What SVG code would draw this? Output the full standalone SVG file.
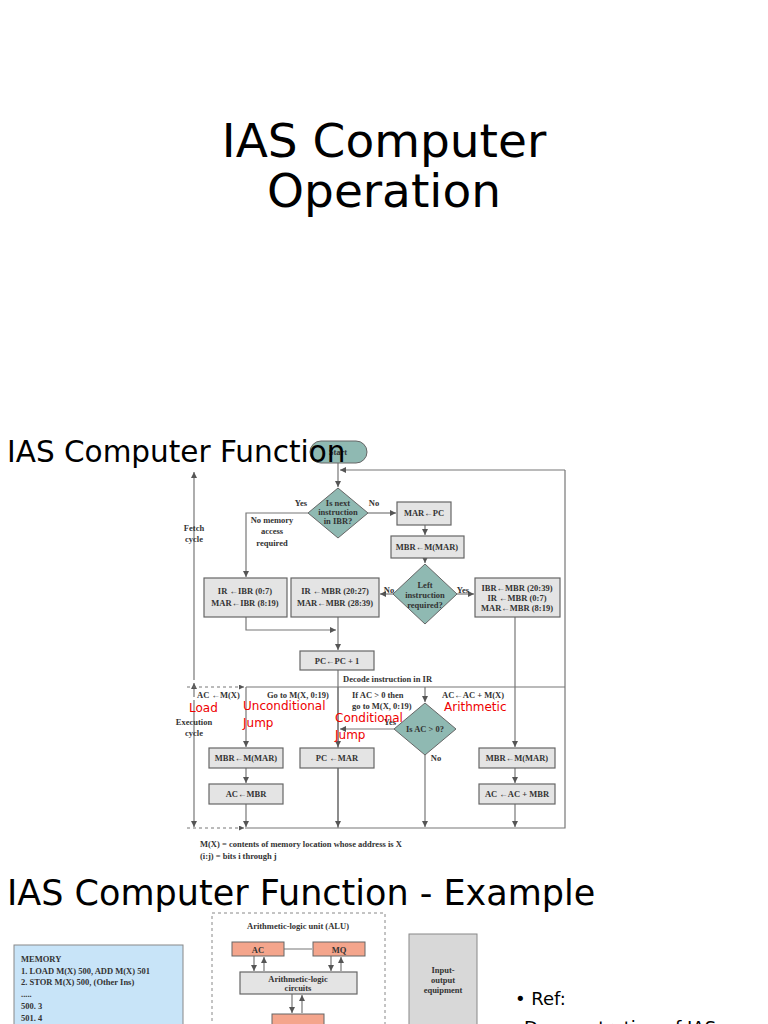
<svg xmlns="http://www.w3.org/2000/svg" width="768" height="1024" viewBox="0 0 768 1024">
<defs>
<marker id="ah" viewBox="0 0 6 6" refX="6" refY="3" markerWidth="5" markerHeight="5" orient="auto"><path d="M0,0L6,3L0,6z" fill="#555"/></marker>
<style>
.t{font-family:"DejaVu Sans",sans-serif;fill:#000}
.s{font-family:"Liberation Serif",serif;font-weight:bold;font-size:8.5px;fill:#333;text-anchor:middle}
.sl{font-family:"Liberation Serif",serif;font-weight:bold;font-size:8.5px;fill:#333}
.r{font-family:"DejaVu Sans",sans-serif;font-size:12px;fill:#e00}
.b{fill:#e4e4e4;stroke:#666;stroke-width:1.2}
.d{fill:#8fb9b2;stroke:#666;stroke-width:1}
.l{fill:none;stroke:#777;stroke-width:1.2}
.la{fill:none;stroke:#777;stroke-width:1.2;marker-end:url(#ah)}
.dash{fill:none;stroke:#777;stroke-width:1;stroke-dasharray:3,3}
.o{fill:#f4a58c;stroke:#666}
</style>
</defs>
<rect width="768" height="1024" fill="#fff"/>
<text class="t" x="384" y="157" font-size="47" text-anchor="middle">IAS Computer</text>
<text class="t" x="384" y="207" font-size="47" text-anchor="middle">Operation</text>

<g id="connectors">
<path class="l" d="M565,470V828H245"/>
<path class="la" d="M565,470H340"/>
<path class="la" d="M338,463V487"/>
<path class="la" d="M308,513H246V577"/>
<path class="la" d="M368,513H396"/>
<path class="la" d="M425,525V535"/>
<path class="la" d="M425,558V563"/>
<path class="la" d="M393,594H380"/>
<path class="la" d="M457,594H474"/>
<path class="la" d="M246,617V630H336"/>
<path class="la" d="M338,617V650"/>
<path class="l" d="M338,670V828"/>
<path class="l" d="M246,687H565"/>
<path class="la" d="M515,617V747"/>
<path class="la" d="M246,687V747"/>
<path class="la" d="M246,768V783"/>
<path class="la" d="M246,804V827"/>
<path class="la" d="M338,687V747"/>
<path class="la" d="M338,768V827"/>
<path class="la" d="M425,687V702"/>
<path class="la" d="M394,729H340"/>
<path class="la" d="M425,755V827"/>
<path class="la" d="M515,768V783"/>
<path class="la" d="M515,804V827"/>
<path class="la" d="M194,680V472"/>
<path class="la" d="M194,697V683"/>
<path class="la" d="M194,700V827"/>
<path class="dash" d="M187,687H244" marker-end="url(#ah)"/>
<path class="dash" d="M187,828H244" marker-end="url(#ah)"/>
<path class="la" d="M312,949H264"/>
<path class="la" d="M254,956V971"/><path class="la" d="M264,971V957"/>
<path class="la" d="M331,956V971"/><path class="la" d="M341,971V957"/>
<path class="la" d="M292,994V1013"/><path class="la" d="M302,1013V995"/>
</g>

<g id="start"><rect x="310" y="441" width="57" height="22" rx="11" class="d"/><text class="s" x="338" y="455">Start</text></g>
<text class="t" x="7" y="462" font-size="29.5">IAS Computer Function</text>
<g id="d1"><path class="d" d="M338,488L368,513L338,538L308,513z"/><text class="s" x="338" y="506">Is next</text><text class="s" x="338" y="515">instruction</text><text class="s" x="338" y="524">in IBR?</text></g>
<text class="s" x="301" y="506">Yes</text><text class="s" x="374" y="506">No</text>
<text class="s" x="272" y="523">No memory</text><text class="s" x="272" y="534">access</text><text class="s" x="272" y="546">required</text>
<text class="s" x="194" y="531">Fetch</text><text class="s" x="194" y="542">cycle</text>
<g id="mar"><rect class="b" x="397" y="502" width="54" height="23"/><text class="s" x="424" y="516">MAR←PC</text></g>
<g id="mbr"><rect class="b" x="391" y="536" width="73" height="22"/><text class="s" x="427" y="550">MBR←M(MAR)</text></g>
<g id="d2"><path class="d" d="M425,564L457,594L425,624L393,594z"/><text class="s" x="425" y="588">Left</text><text class="s" x="425" y="598">instruction</text><text class="s" x="425" y="608">required?</text></g>
<text class="s" x="389" y="593">No</text><text class="s" x="463" y="593">Yes</text>
<g id="b1"><rect class="b" x="204" y="578" width="83" height="39"/><text class="s" x="245" y="594">IR ←IBR (0:7)</text><text class="s" x="245" y="606">MAR←IBR (8:19)</text></g>
<g id="b2"><rect class="b" x="291" y="578" width="88" height="39"/><text class="s" x="335" y="594">IR ←MBR (20:27)</text><text class="s" x="335" y="606">MAR←MBR (28:39)</text></g>
<g id="b3"><rect class="b" x="475" y="578" width="85" height="39"/><text class="s" x="517" y="591">IBR←MBR (20:39)</text><text class="s" x="517" y="601">IR ←MBR (0:7)</text><text class="s" x="517" y="611">MAR←MBR (8:19)</text></g>
<g id="pc"><rect class="b" x="300" y="651" width="74" height="19"/><text class="s" x="337" y="664">PC←PC + 1</text></g>
<text class="sl" x="343" y="682">Decode instruction in IR</text>
<text class="sl" x="197" y="698">AC ←M(X)</text>
<text class="sl" x="267" y="698">Go to M(X, 0:19)</text>
<text class="sl" x="352" y="698">If AC &gt; 0 then</text>
<text class="sl" x="352" y="709">go to M(X, 0:19)</text>
<text class="sl" x="442" y="698">AC←AC + M(X)</text>
<text class="s" x="194" y="725">Execution</text><text class="s" x="194" y="736">cycle</text>
<g id="d3"><path class="d" d="M425,703L456,729L425,755L394,729z"/><text class="s" x="425" y="732">Is AC &gt; 0?</text></g>
<text class="s" x="390" y="725">Yes</text><text class="s" x="436" y="761">No</text>
<g id="e1"><rect class="b" x="209" y="748" width="74" height="20"/><text class="s" x="246" y="761">MBR←M(MAR)</text></g>
<g id="e2"><rect class="b" x="209" y="784" width="74" height="20"/><text class="s" x="246" y="797">AC←MBR</text></g>
<g id="e3"><rect class="b" x="300" y="748" width="74" height="20"/><text class="s" x="337" y="761">PC ←MAR</text></g>
<g id="e4"><rect class="b" x="479" y="748" width="76" height="20"/><text class="s" x="517" y="761">MBR←M(MAR)</text></g>
<g id="e5"><rect class="b" x="479" y="784" width="76" height="20"/><text class="s" x="517" y="797">AC ←AC + MBR</text></g>
<text class="r" x="189" y="712">Load</text>
<text class="r" x="243" y="710">Unconditional</text><text class="r" x="243" y="727">Jump</text>
<text class="r" x="335" y="722">Conditional</text><text class="r" x="335" y="739">Jump</text>
<text class="r" x="444" y="711">Arithmetic</text>
<text class="sl" x="200" y="847">M(X) = contents of memory location whose address is X</text>
<text class="sl" x="200" y="859">(i:j) = bits i through j</text>

<text class="t" x="7" y="905" font-size="35">IAS Computer Function - Example</text>
<g id="memory"><rect x="14" y="945" width="169" height="90" fill="#c8e4f8" stroke="#888"/>
<text class="sl" x="21" y="962">MEMORY</text><text class="sl" x="21" y="974">1. LOAD M(X) 500, ADD M(X) 501</text><text class="sl" x="21" y="985">2. STOR M(X) 500, (Other Ins)</text><text class="sl" x="21" y="997">.....</text><text class="sl" x="21" y="1009">500. 3</text><text class="sl" x="21" y="1021">501. 4</text></g>
<g id="alu"><rect x="212" y="913" width="173" height="130" fill="none" stroke="#888" stroke-dasharray="3,3"/>
<text class="s" x="298" y="929">Arithmetic-logic unit (ALU)</text>
<rect class="o" x="232" y="942" width="52" height="14"/><text class="s" x="258" y="953">AC</text>
<rect class="o" x="313" y="942" width="52" height="14"/><text class="s" x="339" y="953">MQ</text>
<rect class="b" x="240" y="972" width="117" height="22"/><text class="s" x="298" y="982" font-size="7" font-weight="normal">Arithmetic-logic</text><text class="s" x="298" y="991" font-size="7" font-weight="normal">circuits</text>
<rect class="o" x="272" y="1014" width="52" height="14"/></g>
<g id="io"><rect x="409" y="934" width="68" height="95" fill="#d8d8d8" stroke="#888"/><text class="s" x="443" y="973">Input-</text><text class="s" x="443" y="983">output</text><text class="s" x="443" y="993">equipment</text></g>
<text class="t" x="515" y="1005" font-size="18">• Ref:</text>
<text class="t" x="524" y="1034" font-size="18">Demonstration of IAS</text>
</svg>
